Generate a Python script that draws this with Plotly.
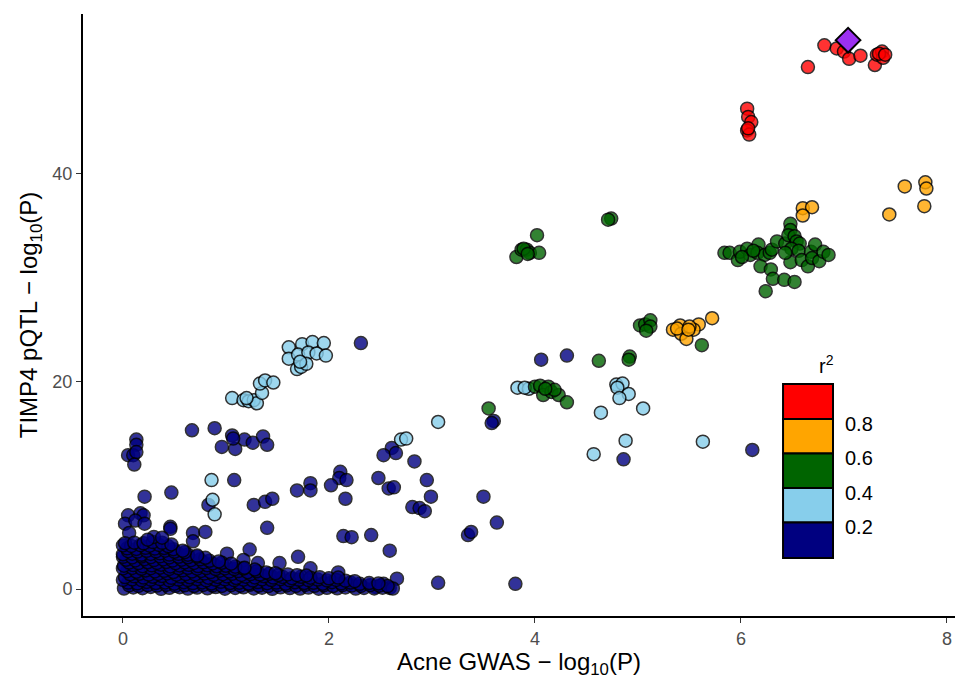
import plotly.graph_objects as go

# ---------------- data ----------------
red_x = [6.81, 6.65, 6.93, 7.00, 7.05, 7.16, 7.30, 7.32, 7.37, 7.38, 7.34, 7.40,
         6.06, 6.07, 6.10, 6.06, 6.08, 6.07]
red_y = [52.4, 50.3, 52.1, 51.8, 51.1, 51.4, 50.5, 51.5, 51.8, 51.2, 51.6, 51.5,
         46.3, 45.5, 45.0, 44.2, 43.8, 44.4]

orange_x = [7.59, 7.79, 7.80, 7.78, 7.44, 6.60, 6.69, 6.60, 5.72, 5.59, 5.54, 5.41,
            5.34, 5.42, 5.47, 5.50, 5.38, 5.49]
orange_y = [38.8, 39.2, 38.6, 36.9, 36.1, 36.7, 36.8, 36.0, 26.1, 25.5, 25.0, 25.4,
            25.0, 24.6, 24.1, 25.3, 25.1, 25.0]

green_pts = [
    (5.84, 32.4), (5.89, 32.4), (5.97, 31.7), (5.99, 32.5), (6.06, 32.8), (6.09, 32.2),
    (6.17, 33.2), (6.16, 32.4), (6.23, 32.2), (6.28, 32.4), (6.30, 32.7), (6.19, 31.1),
    (6.29, 30.8), (6.31, 29.9), (6.42, 29.8), (6.52, 29.6), (6.24, 28.7), (6.35, 33.5),
    (6.43, 33.3), (6.48, 35.2), (6.48, 34.6), (6.46, 34.1), (6.52, 34.0), (6.54, 33.5),
    (6.57, 33.3), (6.49, 32.8), (6.56, 32.6), (6.48, 31.5), (6.59, 31.7), (6.65, 31.1),
    (6.68, 32.5), (6.72, 33.2), (6.69, 31.9), (6.76, 31.6), (6.80, 32.5), (6.85, 32.2),
    (6.43, 32.4), (6.01, 32.0), (6.12, 32.6),
    (4.74, 35.7), (4.71, 35.6),
    (3.82, 32.0), (3.87, 32.7), (3.92, 32.7), (3.95, 32.4), (4.04, 32.4), (4.02, 34.1),
    (3.89, 32.8), (3.93, 32.3),
    (5.02, 25.4), (5.07, 25.5), (5.12, 25.9), (5.12, 25.3), (5.08, 24.9), (5.62, 23.5),
    (4.62, 22.0), (4.92, 22.4), (4.91, 22.1),
    (4.00, 19.5), (4.05, 19.6), (4.13, 19.5), (4.08, 18.7), (4.16, 19.0), (4.23, 18.7),
    (4.31, 18.0), (4.19, 19.2), (4.10, 19.3),
    (3.55, 17.4),
]

lightblue_pts = [
    (3.83, 19.4), (3.94, 19.3), (3.90, 19.4),
    (4.79, 19.7), (4.85, 19.8), (4.80, 19.4), (4.91, 18.8), (4.82, 18.4), (5.05, 17.4),
    (4.64, 17.0), (4.88, 14.3), (5.63, 14.2), (4.57, 13.0), (3.06, 16.1),
    (2.70, 14.4), (2.75, 14.5),
    (1.61, 23.3), (1.74, 23.6), (1.84, 23.8), (1.95, 23.7), (1.61, 22.2), (1.70, 22.6),
    (1.80, 22.8), (1.88, 22.7), (1.97, 22.5), (1.69, 21.2), (1.73, 21.4), (1.78, 21.7),
    (1.72, 21.9),
    (1.06, 18.4), (1.17, 18.2), (1.22, 18.1), (1.27, 18.2), (1.30, 17.9), (1.35, 18.9),
    (1.33, 19.8), (1.38, 20.1), (1.46, 19.9), (1.20, 18.4),
    (0.86, 10.5), (0.87, 8.6), (0.89, 7.2),
]

navy_pts = [
    (2.31, 23.7), (4.06, 22.1), (4.31, 22.5), (3.60, 16.2), (3.58, 16.0), (4.86, 12.5),
    (6.11, 13.4),
    (2.61, 13.6), (2.53, 12.9), (2.65, 13.1), (2.83, 12.3), (2.48, 10.7), (2.58, 9.7),
    (2.63, 9.8), (2.95, 10.5), (2.99, 8.9), (2.81, 7.9), (2.88, 7.8), (2.93, 7.5),
    (2.11, 11.3), (2.10, 10.7), (2.17, 10.5), (2.02, 10.0), (2.16, 8.7), (1.69, 9.5),
    (1.82, 10.2), (1.82, 9.5),
    (2.14, 5.1), (2.22, 5.0), (2.41, 5.2), (2.59, 3.7), (3.35, 5.2), (3.38, 5.5),
    (3.50, 8.9), (3.63, 6.4), (3.06, 0.6), (3.81, 0.5), (2.66, 1.0),
    (0.67, 15.3), (0.89, 15.5), (1.06, 14.8), (1.18, 14.4), (1.26, 14.1), (1.36, 14.7),
    (1.40, 13.9), (0.96, 13.7), (1.09, 13.5), (1.07, 14.5),
    (0.13, 14.4), (0.13, 13.9), (0.05, 12.9), (0.10, 12.9), (0.13, 13.2), (0.11, 12.0),
    (1.08, 10.5), (0.47, 9.3), (0.21, 8.9), (0.83, 8.1), (1.27, 8.1), (1.38, 8.4),
    (1.45, 8.7),
    (0.05, 7.1), (0.17, 7.3), (0.20, 7.1), (0.02, 6.3), (0.12, 6.6), (0.21, 6.3),
    (0.06, 5.4),
    (0.46, 6.0), (0.68, 5.4), (0.80, 5.5), (0.68, 4.6), (1.40, 5.9), (1.01, 3.4),
    (1.23, 3.8), (1.70, 3.1), (1.52, 2.5), (1.82, 2.0), (2.09, 1.6), (1.31, 2.5),
    (1.17, 2.8), (0.46, 5.8), (2.45, 0.2), (2.53, 0.5), (2.59, 0.1),
    # dense mass of weak variants near the origin
    (0.01, 0.05), (0.10, 0.15), (0.19, 0.08), (0.27, 0.20), (0.37, 0.02), (0.45, 0.12),
    (0.55, 0.18), (0.63, 0.04), (0.72, 0.14), (0.82, 0.07), (0.90, 0.19), (0.99, 0.03),
    (1.09, 0.11), (1.17, 0.17), (1.27, 0.06), (1.35, 0.13), (1.45, 0.02), (1.53, 0.16),
    (1.62, 0.09), (1.72, 0.05), (1.80, 0.14), (1.90, 0.03), (1.98, 0.12), (2.08, 0.07),
    (2.16, 0.15), (2.26, 0.04), (2.34, 0.10), (2.44, 0.06), (2.52, 0.13), (2.62, 0.05),
    (0.06, 0.35), (0.15, 0.30), (0.24, 0.38), (0.33, 0.33), (0.42, 0.40), (0.51, 0.31),
    (0.60, 0.36), (0.69, 0.29), (0.78, 0.39), (0.87, 0.34), (0.96, 0.30), (1.05, 0.37),
    (1.14, 0.32), (1.23, 0.41), (1.32, 0.33), (1.41, 0.28), (1.50, 0.38), (1.59, 0.35),
    (1.68, 0.30), (1.77, 0.40), (1.86, 0.31), (1.95, 0.36), (2.04, 0.29), (2.13, 0.38),
    (2.22, 0.33), (2.31, 0.30), (2.40, 0.37), (2.49, 0.32), (2.57, 0.28),
    (0.05, 0.62), (0.14, 0.55), (0.23, 0.68), (0.32, 0.58), (0.41, 0.64), (0.50, 0.52),
    (0.59, 0.66), (0.68, 0.57), (0.77, 0.63), (0.86, 0.54), (0.95, 0.69), (1.04, 0.58),
    (1.13, 0.61), (1.22, 0.53), (1.31, 0.67), (1.40, 0.56), (1.49, 0.62), (1.58, 0.51),
    (1.67, 0.65), (1.76, 0.58), (1.85, 0.60), (1.94, 0.52), (2.03, 0.66), (2.12, 0.55),
    (2.21, 0.62), (2.30, 0.50), (2.39, 0.58), (2.48, 0.54),
    (0.00, 0.88), (0.09, 0.92), (0.18, 0.85), (0.27, 0.90), (0.36, 0.95), (0.45, 0.84),
    (0.54, 0.91), (0.63, 0.87), (0.72, 0.94), (0.81, 0.83), (0.90, 0.89), (0.99, 0.93),
    (1.08, 0.86), (1.17, 0.90), (1.26, 0.82), (1.35, 0.92), (1.44, 0.87), (1.53, 0.95),
    (1.62, 0.84), (1.71, 0.89), (1.80, 0.86), (1.89, 0.91), (1.98, 0.83), (2.07, 0.88),
    (2.16, 0.80), (2.25, 0.76),
    (0.02, 1.15), (0.11, 1.22), (0.20, 1.10), (0.29, 1.18), (0.38, 1.25), (0.47, 1.08),
    (0.56, 1.20), (0.65, 1.13), (0.74, 1.24), (0.83, 1.09), (0.92, 1.17), (1.01, 1.21),
    (1.10, 1.06), (1.19, 1.19), (1.28, 1.12), (1.37, 1.23), (1.46, 1.10), (1.55, 1.16),
    (1.64, 1.05), (1.73, 1.18), (1.82, 1.09), (1.91, 1.14), (2.00, 1.03), (2.09, 1.10),
    (0.07, 1.42), (0.16, 1.47), (0.25, 1.39), (0.34, 1.45), (0.43, 1.50), (0.52, 1.38),
    (0.61, 1.44), (0.70, 1.41), (0.79, 1.49), (0.88, 1.37), (0.97, 1.43), (1.06, 1.46),
    (1.15, 1.36), (1.24, 1.44), (1.33, 1.40), (1.42, 1.47), (1.51, 1.35), (1.60, 1.41),
    (1.69, 1.33), (1.78, 1.30),
    (0.04, 1.72), (0.13, 1.66), (0.22, 1.78), (0.31, 1.69), (0.40, 1.75), (0.49, 1.64),
    (0.58, 1.80), (0.67, 1.70), (0.76, 1.74), (0.85, 1.63), (0.94, 1.77), (1.03, 1.68),
    (1.12, 1.73), (1.21, 1.62), (1.30, 1.71), (1.39, 1.60), (1.48, 1.52),
    (0.00, 1.98), (0.09, 2.03), (0.18, 1.95), (0.27, 2.01), (0.36, 2.06), (0.45, 1.94),
    (0.54, 2.00), (0.63, 2.04), (0.72, 1.96), (0.81, 2.02), (0.90, 1.93), (0.99, 1.99),
    (1.08, 1.92), (1.17, 1.97), (1.28, 1.88),
    (0.01, 2.25), (0.10, 2.31), (0.19, 2.20), (0.28, 2.28), (0.37, 2.35), (0.46, 2.18),
    (0.55, 2.27), (0.64, 2.33), (0.73, 2.21), (0.82, 2.29), (0.91, 2.19), (1.00, 2.24),
    (1.09, 2.15), (1.18, 2.05),
    (0.06, 2.55), (0.15, 2.50), (0.24, 2.58), (0.33, 2.52), (0.42, 2.60), (0.51, 2.49),
    (0.60, 2.56), (0.69, 2.51), (0.78, 2.57), (0.87, 2.47), (0.96, 2.53), (1.05, 2.44),
    (0.03, 2.82), (0.12, 2.76), (0.21, 2.88), (0.30, 2.79), (0.39, 2.85), (0.48, 2.74),
    (0.57, 2.83), (0.66, 2.78), (0.75, 2.86), (0.84, 2.72), (0.93, 2.66),
    (0.00, 3.10), (0.09, 3.05), (0.18, 3.13), (0.27, 3.07), (0.36, 3.15), (0.45, 3.04),
    (0.54, 3.11), (0.63, 3.06), (0.72, 3.12), (0.80, 3.01),
    (0.00, 3.35), (0.09, 3.41), (0.18, 3.30), (0.27, 3.38), (0.36, 3.44), (0.45, 3.32),
    (0.54, 3.39), (0.63, 3.31), (0.72, 3.22),
    (0.05, 3.65), (0.14, 3.61), (0.23, 3.68), (0.32, 3.63), (0.41, 3.70), (0.50, 3.59),
    (0.60, 3.55),
    (0.04, 3.92), (0.13, 3.86), (0.22, 3.97), (0.31, 3.90), (0.40, 3.95), (0.49, 3.84),
    (0.58, 3.70),
    (0.00, 4.20), (0.08, 4.15), (0.17, 4.23), (0.26, 4.18), (0.35, 4.25), (0.44, 4.12),
    (0.02, 4.42), (0.11, 4.47), (0.20, 4.40), (0.29, 4.52), (0.38, 4.45), (0.47, 4.30),
    (0.30, 5.02), (0.38, 4.95), (0.24, 4.75),
]

lead_x = [7.04]
lead_y = [52.9]

x_ticks = [0, 2, 4, 6, 8]
y_ticks = [0, 20, 40]

legend_colors = ["#FF0000", "#FFA500", "#006400", "#87CEEB", "#000080"]
legend_labels = ["0.8", "0.6", "0.4", "0.2"]

# ---------------- figure ----------------
fig = go.Figure()

def add_group(pts_x, pts_y, color):
    fig.add_trace(go.Scatter(
        x=pts_x, y=pts_y, mode="markers",
        marker=dict(size=13, color=color, opacity=0.8,
                    line=dict(color="black", width=1.5)),
        showlegend=False, hoverinfo="x+y"))

add_group([p[0] for p in navy_pts], [p[1] for p in navy_pts], "#000080")
add_group([p[0] for p in lightblue_pts], [p[1] for p in lightblue_pts], "#87CEEB")
add_group([p[0] for p in green_pts], [p[1] for p in green_pts], "#006400")
add_group(orange_x, orange_y, "#FFA500")
add_group(red_x, red_y, "#FF0000")

fig.add_trace(go.Scatter(
    x=lead_x, y=lead_y, mode="markers",
    marker=dict(symbol="diamond", size=19, color="#9B30F0",
                line=dict(color="black", width=2)),
    showlegend=False))

# discrete r^2 legend (drawn as boxes in paper coordinates)
box_x0, box_x1 = 0.8028, 0.8601
box_edges = [0.3854, 0.3272, 0.2699, 0.2126, 0.1553, 0.0963]
shapes = []
for i, c in enumerate(legend_colors):
    shapes.append(dict(type="rect", xref="paper", yref="paper",
                       x0=box_x0, x1=box_x1, y0=box_edges[i + 1], y1=box_edges[i],
                       fillcolor=c, line=dict(color="black", width=2), layer="above"))

annotations = []
for i, lab in enumerate(legend_labels):
    annotations.append(dict(xref="paper", yref="paper", x=0.8716,
                            y=box_edges[i + 1] - 0.008, text=lab, showarrow=False,
                            xanchor="left", yanchor="middle",
                            font=dict(size=20, color="black")))
annotations.append(dict(xref="paper", yref="paper", x=0.853, y=0.418,
                        text="r<sup>2</sup>", showarrow=False,
                        xanchor="center", yanchor="middle",
                        font=dict(size=20, color="black")))

font_family = "Liberation Sans, Arial, sans-serif"
fig.update_layout(
    width=955, height=679,
    margin=dict(l=83, r=0, t=14, b=63),
    paper_bgcolor="white", plot_bgcolor="white",
    font=dict(family=font_family),
    shapes=shapes, annotations=annotations,
    xaxis=dict(
        range=[-0.388, 8.078], tickvals=x_ticks, ticktext=[str(v) for v in x_ticks],
        showgrid=False, zeroline=False, showline=True, linecolor="black", linewidth=2,
        ticks="outside", ticklen=5, tickwidth=1.3, tickcolor="#333333",
        tickfont=dict(size=18, color="#4D4D4D"),
        title=dict(text="Acne GWAS \u2212 log<sub>10</sub>(P)",
                   font=dict(size=24, color="black"), standoff=6),
    ),
    yaxis=dict(
        range=[-2.6, 55.42], tickvals=y_ticks, ticktext=[str(v) for v in y_ticks],
        showgrid=False, zeroline=False, showline=True, linecolor="black", linewidth=2,
        ticks="outside", ticklen=5, tickwidth=1.3, tickcolor="#333333",
        tickfont=dict(size=18, color="#4D4D4D"),
        title=dict(text="TIMP4 pQTL \u2212 log<sub>10</sub>(P)",
                   font=dict(size=24, color="black"), standoff=8),
    ),
)

fig.write_html("out.html")
